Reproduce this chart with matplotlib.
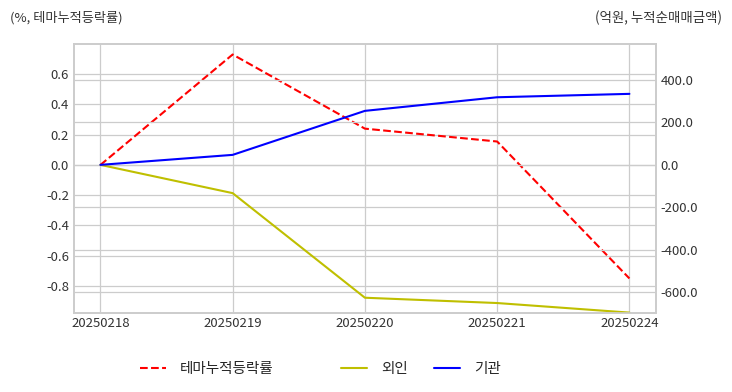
import numpy as np
import matplotlib
matplotlib.use('Agg')
import matplotlib.pyplot as plt
from matplotlib.ticker import FormatStrFormatter

plt.style.use('seaborn-v0_8-whitegrid')
plt.rcParams['font.family'] = ['Noto Sans CJK KR', 'DejaVu Sans']
plt.rcParams['axes.unicode_minus'] = False

# data
dates = ['20250218', '20250219', '20250220', '20250221', '20250224']
theme_ret = [0.0, 0.73, 0.24, 0.155, -0.75]
foreign = [0.0, -133.0, -625.0, -650.0, -695.0]
inst = [0.0, 47.0, 254.0, 318.0, 334.0]

fig, ax = plt.subplots(figsize=(7.32, 3.92), dpi=100)
fig.subplots_adjust(left=0.101, right=0.896, top=0.888, bottom=0.202)
ax2 = ax.twinx()

x = np.arange(len(dates))
l1, = ax.plot(x, theme_ret, color='r', linestyle='--', linewidth=1.5, label='테마누적등락률')
l2, = ax2.plot(x, foreign, color='y', linewidth=1.5, label='외인')
l3, = ax2.plot(x, inst, color='b', linewidth=1.5, label='기관')

ax.set_xticks(x)
ax.set_xticklabels(dates)
ax.set_ylim(-0.977, 0.80)
ax.set_yticks([-0.8, -0.6, -0.4, -0.2, 0.0, 0.2, 0.4, 0.6])
ax.yaxis.set_major_formatter(FormatStrFormatter('%.1f'))
ax2.set_ylim(-696, 569)
ax2.set_yticks([-600, -400, -200, 0, 200, 400])
ax2.yaxis.set_major_formatter(FormatStrFormatter('%.1f'))

for a in (ax, ax2):
    a.grid(True, color='#cccccc', linewidth=0.9)
    a.tick_params(labelsize=9.5, colors='#333333')
    for s in a.spines.values():
        s.set_visible(True)
        s.set_color('#cccccc')
        s.set_linewidth(1.2)
ax.tick_params(axis='x', pad=3)

fig.text(0.014, 0.955, '(%, 테마누적등락률)', fontsize=9.5, color='#333333', va='center')
fig.text(0.986, 0.955, '(억원, 누적순매매금액)', fontsize=9.7, color='#333333', va='center', ha='right')

leg1 = fig.legend(handles=[l1], loc='center left', bbox_to_anchor=(140 / 732, 0.058),
                  frameon=False, fontsize=10.5, handlelength=1.75, handletextpad=1.0,
                  borderpad=0, borderaxespad=0)
leg2 = fig.legend(handles=[l2, l3], loc='center left', bbox_to_anchor=(341 / 732, 0.058), ncol=2,
                  frameon=False, fontsize=10.5, handlelength=1.75, handletextpad=1.0,
                  columnspacing=1.8, borderpad=0, borderaxespad=0)

fig.savefig('out.png', dpi=100)
